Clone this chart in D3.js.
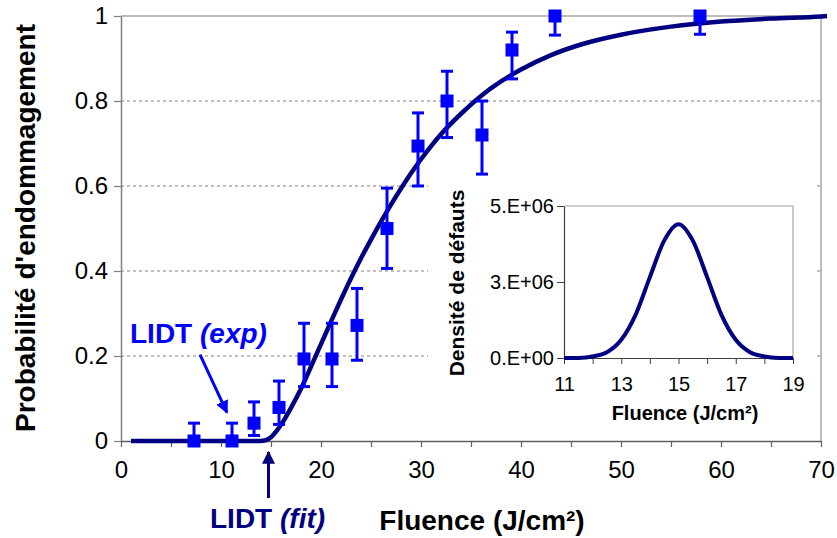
<!DOCTYPE html>
<html><head><meta charset="utf-8">
<script src="https://cdn.jsdelivr.net/npm/d3@7"></script>
<style>
body{margin:0;background:#fff}
svg{display:block;font-family:Arial,"Liberation Sans",sans-serif}
</style>
</head><body>
<svg id="chart" width="837" height="538"></svg>
<script>
// ---- Main chart data: measured damage probability ----
const fluence   = [7.3, 11.1, 13.3, 15.8, 18.3, 21.1, 23.6, 26.6, 29.7, 32.6, 36.1, 39.1, 43.4, 57.9];
const probability = [0, 0, 0.042, 0.079, 0.193, 0.193, 0.272, 0.5, 0.694, 0.8, 0.72, 0.92, 1.0, 1.0];
const errLow    = [0, 0, 0.013, 0.039, 0.128, 0.128, 0.19, 0.406, 0.6, 0.714, 0.628, 0.852, 0.955, 0.957];
const errHigh   = [0.042, 0.042, 0.092, 0.141, 0.277, 0.277, 0.359, 0.595, 0.772, 0.87, 0.8, 0.962, 1.0, 1.0];

// ---- Fitted curve ----
const fitFluence = [1, 5, 10, 14, 15, 16, 17, 18, 19, 20, 21, 22, 23, 24, 25, 26, 27, 28, 29, 30, 32, 34, 36, 38, 40, 43, 46, 50, 55, 60, 65, 70, 70.6];
const fitProb    = [0, 0, 0, 0, 0.009, 0.038, 0.078, 0.123, 0.175, 0.228, 0.281, 0.333, 0.383, 0.43, 0.474, 0.516, 0.556, 0.594, 0.63, 0.663, 0.722, 0.77, 0.812, 0.846, 0.874, 0.908, 0.933, 0.956, 0.975, 0.987, 0.994, 0.999, 1.0];

// ---- Inset: defect density ----
const insetFluence = [11, 11.5, 12, 12.5, 13, 13.5, 14, 14.5, 15, 15.5, 16, 16.5, 17, 17.5, 18, 18.5, 19];
const insetDensity = [0, 0.004e6, 0.05e6, 0.19e6, 0.6e6, 1.42e6, 2.66e6, 3.86e6, 4.4e6, 3.86e6, 2.66e6, 1.42e6, 0.6e6, 0.19e6, 0.05e6, 0.004e6, 0];

// ---- Tick labels ----
const xTicksMain = [0, 10, 20, 30, 40, 50, 60, 70];
const xMinorMain = [0, 5, 10, 15, 20, 25, 30, 35, 40, 45, 50, 55, 60, 65, 70];
const yTicksMain = [0, 0.2, 0.4, 0.6, 0.8, 1];
const yTickLabelsMain = ["0", "0.2", "0.4", "0.6", "0.8", "1"];
const insetXTicks = [11, 12, 13, 14, 15, 16, 17, 18, 19];
const insetXLabels = [11, 13, 15, 17, 19];
const insetYTicks = [0, 2.5e6, 5e6];
const insetYLabels = ["0.E+00", "3.E+06", "5.E+06"];

const svg = d3.select("#chart");
const NAVY = "#000080", BLUE = "#0000FF";

// Main scales
const x = d3.scaleLinear().domain([0, 70]).range([121, 821]);
const y = d3.scaleLinear().domain([0, 1]).range([441, 16]);

// Gridlines
svg.append("g").selectAll("line").data(yTicksMain.filter(d => d > 0 && d < 1)).join("line")
  .attr("x1", x(0)).attr("x2", x(70)).attr("y1", d => y(d)).attr("y2", d => y(d))
  .attr("stroke", "#808080").attr("stroke-width", 1).attr("stroke-dasharray", "3,3");

// Plot area border (top, right)
svg.append("path").attr("d", `M${x(0)},${y(1)}H${x(70)}V${y(0)}`)
  .attr("fill", "none").attr("stroke", "#a6a6a6").attr("stroke-width", 1.5);

// Y axis
const yAxis = svg.append("g").attr("transform", `translate(${x(0)},0)`)
  .call(d3.axisLeft(y).tickValues(yTicksMain).tickSize(7).tickSizeOuter(0).tickPadding(6)
    .tickFormat((d, i) => yTickLabelsMain[i]));
yAxis.select(".domain").attr("stroke", "#808080").attr("stroke-width", 1.5);
yAxis.selectAll(".tick line").attr("stroke", "#808080").attr("stroke-width", 1.2);
yAxis.selectAll(".tick text").attr("font-size", 24).attr("fill", "#000").attr("font-family", "Arial,'Liberation Sans',sans-serif");

// X axis
const xAxis = svg.append("g").attr("transform", `translate(0,${y(0)})`)
  .call(d3.axisBottom(x).tickValues(xMinorMain).tickSize(6).tickSizeOuter(0).tickPadding(14)
    .tickFormat(d => xTicksMain.includes(d) ? d : ""));
xAxis.select(".domain").attr("stroke", "#606060").attr("stroke-width", 1.5);
xAxis.selectAll(".tick line").attr("stroke", "#606060").attr("stroke-width", 1.2);
xAxis.selectAll(".tick text").attr("font-size", 24).attr("fill", "#000").attr("font-family", "Arial,'Liberation Sans',sans-serif");

// Axis titles
svg.append("text").attr("x", 482).attr("y", 530).attr("text-anchor", "middle")
  .attr("font-size", 28).attr("font-weight", "bold").text("Fluence (J/cm²)");
svg.append("text").attr("transform", "translate(35,228) rotate(-90)").attr("text-anchor", "middle")
  .attr("font-size", 28).attr("font-weight", "bold").text("Probabilité d'endommagement");

// Fit curve
const line = d3.line().x(d => x(d[0])).y(d => y(d[1])).curve(d3.curveMonotoneX);
svg.append("path").datum(fitFluence.map((f, i) => [f, fitProb[i]]))
  .attr("d", line).attr("fill", "none").attr("stroke", NAVY).attr("stroke-width", 4.5);

// Error bars and points
const pts = fluence.map((f, i) => ({f, p: probability[i], lo: errLow[i], hi: errHigh[i]}));
const eb = svg.append("g").attr("stroke", BLUE).attr("stroke-width", 3);
eb.selectAll("line.v").data(pts).join("line").attr("class", "v")
  .attr("x1", d => x(d.f)).attr("x2", d => x(d.f)).attr("y1", d => y(d.lo)).attr("y2", d => y(d.hi));
eb.selectAll("line.t").data(pts).join("line").attr("class", "t")
  .attr("x1", d => x(d.f) - 6).attr("x2", d => x(d.f) + 6).attr("y1", d => y(d.hi)).attr("y2", d => y(d.hi));
eb.selectAll("line.b").data(pts).join("line").attr("class", "b")
  .attr("x1", d => x(d.f) - 6).attr("x2", d => x(d.f) + 6).attr("y1", d => y(d.lo)).attr("y2", d => y(d.lo));
svg.append("g").selectAll("rect").data(pts).join("rect")
  .attr("x", d => x(d.f) - 6.5).attr("y", d => y(d.p) - 6.5).attr("width", 13).attr("height", 13)
  .attr("fill", BLUE);

// Arrow markers
const defs = svg.append("defs");
[["arrBlue", BLUE], ["arrNavy", NAVY]].forEach(([id, c]) => {
  defs.append("marker").attr("id", id).attr("viewBox", "0 0 10 10").attr("refX", 9).attr("refY", 5)
    .attr("markerWidth", 13).attr("markerHeight", 13).attr("markerUnits", "userSpaceOnUse")
    .attr("orient", "auto")
    .append("path").attr("d", "M0,0L10,5L0,10z").attr("fill", c);
});

// Annotations
const exp = svg.append("text").attr("x", x(0.9)).attr("y", y(0.231)).attr("font-size", 28)
  .attr("font-weight", "bold").attr("fill", BLUE);
exp.append("tspan").text("LIDT ");
exp.append("tspan").attr("font-style", "italic").text("(exp)");
svg.append("line").attr("x1", x(7.9)).attr("y1", y(0.203)).attr("x2", x(10.6)).attr("y2", y(0.067))
  .attr("stroke", BLUE).attr("stroke-width", 3).attr("marker-end", "url(#arrBlue)");

const fit = svg.append("text").attr("x", 210).attr("y", 528).attr("font-size", 28)
  .attr("font-weight", "bold").attr("fill", NAVY);
fit.append("tspan").text("LIDT ");
fit.append("tspan").attr("font-style", "italic").text("(fit)");
svg.append("line").attr("x1", x(14.75)).attr("y1", 498).attr("x2", x(14.75)).attr("y2", 452)
  .attr("stroke", NAVY).attr("stroke-width", 3).attr("marker-end", "url(#arrNavy)");

// ---- Inset ----
svg.append("rect").attr("x", 428).attr("y", 180).attr("width", 387).attr("height", 248).attr("fill", "#fff");
const xi = d3.scaleLinear().domain([11, 19]).range([564, 793]);
const yi = d3.scaleLinear().domain([0, 5e6]).range([358, 206]);

svg.append("path").attr("d", `M${xi(11)},${yi(5e6)}H${xi(19)}V${yi(0)}`)
  .attr("fill", "none").attr("stroke", "#a6a6a6").attr("stroke-width", 1.2);

const yiAxis = svg.append("g").attr("transform", `translate(${xi(11)},0)`)
  .call(d3.axisLeft(yi).tickValues(insetYTicks).tickSize(7).tickSizeOuter(0).tickPadding(3)
    .tickFormat((d, i) => insetYLabels[i]));
yiAxis.select(".domain").attr("stroke", "#404040").attr("stroke-width", 1.2);
yiAxis.selectAll(".tick line").attr("stroke", "#404040");
yiAxis.selectAll(".tick text").attr("font-size", 20).attr("fill", "#000").attr("font-family", "Arial,'Liberation Sans',sans-serif");

const xiAxis = svg.append("g").attr("transform", `translate(0,${yi(0)})`)
  .call(d3.axisBottom(xi).tickValues(insetXTicks).tickSize(6).tickSizeOuter(0).tickPadding(13)
    .tickFormat(d => insetXLabels.includes(d) ? d : ""));
xiAxis.select(".domain").attr("stroke", "#404040").attr("stroke-width", 1.2);
xiAxis.selectAll(".tick line").attr("stroke", "#404040");
xiAxis.selectAll(".tick text").attr("font-size", 20).attr("fill", "#000").attr("font-family", "Arial,'Liberation Sans',sans-serif");

svg.append("text").attr("x", 685).attr("y", 420).attr("text-anchor", "middle")
  .attr("font-size", 20).attr("font-weight", "bold").text("Fluence (J/cm²)");
svg.append("text").attr("transform", "translate(464,283) rotate(-90)").attr("text-anchor", "middle")
  .attr("font-size", 21).attr("font-weight", "bold").text("Densité de défauts");

const lineI = d3.line().x(d => xi(d[0])).y(d => yi(d[1])).curve(d3.curveMonotoneX);
svg.append("path").datum(insetFluence.map((f, i) => [f, insetDensity[i]]))
  .attr("d", lineI).attr("fill", "none").attr("stroke", NAVY).attr("stroke-width", 4);
</script>
</body></html>
